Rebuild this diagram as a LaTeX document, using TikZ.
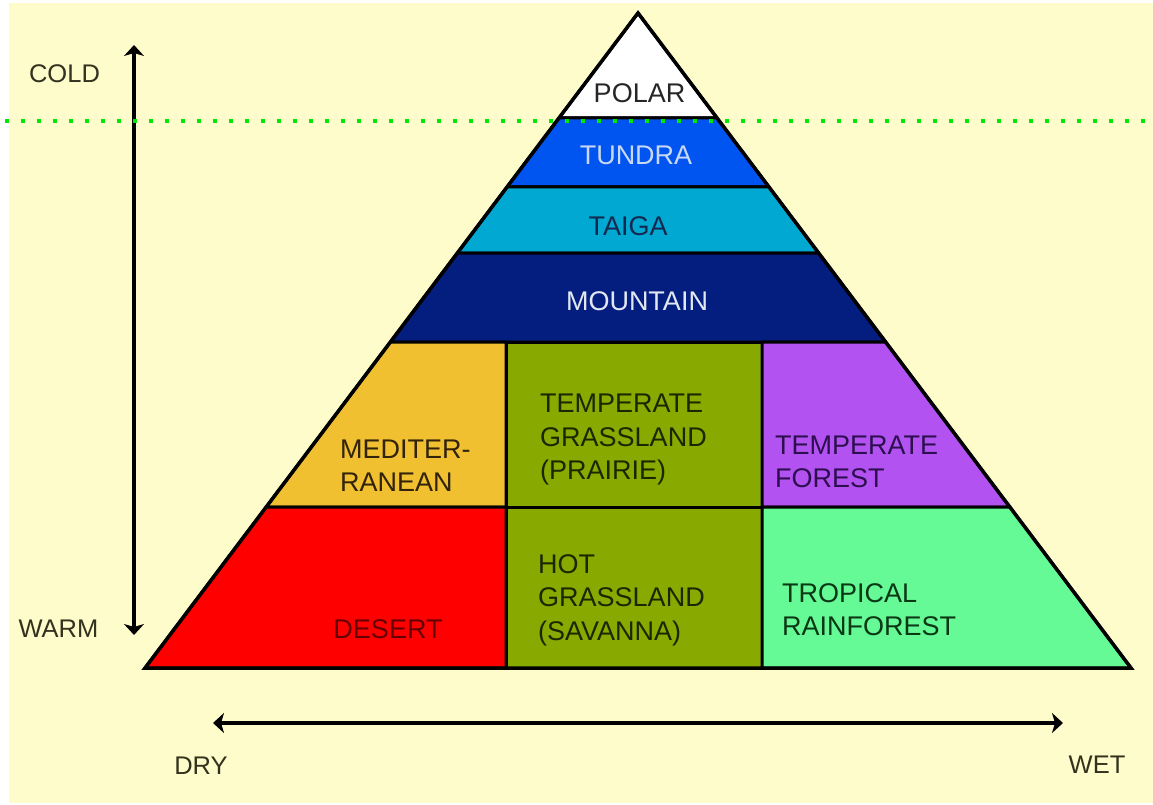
\documentclass[tikz,border=0pt]{standalone}
\usepackage{fontspec}
\setmainfont{Liberation Sans}
\usetikzlibrary{arrows.meta}
\definecolor{bg}{RGB}{254,252,202}
\definecolor{polarc}{RGB}{255,255,255}
\definecolor{tundrac}{RGB}{0,85,240}
\definecolor{taigac}{RGB}{0,168,210}
\definecolor{mountc}{RGB}{4,30,128}
\definecolor{medc}{RGB}{240,192,48}
\definecolor{grassc}{RGB}{136,170,0}
\definecolor{forestc}{RGB}{178,82,240}
\definecolor{desertc}{RGB}{255,0,0}
\definecolor{tropc}{RGB}{102,250,150}
\definecolor{dotgreen}{RGB}{0,232,0}
\definecolor{axistext}{RGB}{50,50,30}
\definecolor{tundratext}{RGB}{200,216,245}
\definecolor{taigatext}{RGB}{20,40,80}
\definecolor{mounttext}{RGB}{225,232,242}
\definecolor{medtext}{RGB}{50,35,10}
\definecolor{grasstext}{RGB}{25,40,0}
\definecolor{foresttext}{RGB}{45,15,80}
\definecolor{deserttext}{RGB}{100,0,0}
\definecolor{troptext}{RGB}{10,55,20}
\begin{document}
\begin{tikzpicture}[x=1pt,y=-1pt,
  region/.style={draw=black, line width=3pt, line join=round},
  lbl/.style={font=\fontsize{27}{33.5}\selectfont, inner sep=0pt},
  axislbl/.style={font=\fontsize{25.5}{30}\selectfont, inner sep=0pt, text=axistext},
  axisarrow/.style={line width=3.5pt, {Stealth[length=11pt,width=20pt,inset=3pt]}-{Stealth[length=11pt,width=20pt,inset=3pt]}},
  greendots/.style={draw=dotgreen, line width=4pt, dash pattern=on 4pt off 12pt}]
\useasboundingbox (0,0) rectangle (1153,805);
\fill[white] (0,0) rectangle (1153,805);
\fill[bg] (9,3) rectangle (1153,803);
% pyramid corners
\coordinate (A) at (638,13);
\coordinate (BL) at (145,668);
\coordinate (BR) at (1131,668);
% regions
\filldraw[region, fill=polarc] (A) -- (559,118) -- (717,118) -- cycle;
\filldraw[region, fill=tundrac] (559,118) -- (717,118) -- (769,187) -- (507,187) -- cycle;
\filldraw[region, fill=taigac] (507,187) -- (769,187) -- (818.6,253) -- (457.4,253) -- cycle;
\filldraw[region, fill=mountc] (457.4,253) -- (818.6,253) -- (885.6,342) -- (390.4,342) -- cycle;
\filldraw[region, fill=medc] (390.4,342) -- (506,342) -- (506,507) -- (266.2,507) -- cycle;
\filldraw[region, fill=grassc] (506,342) -- (762,342) -- (762,507) -- (506,507) -- cycle;
\filldraw[region, fill=forestc] (762,342) -- (885.6,342) -- (1009.8,507) -- (762,507) -- cycle;
\filldraw[region, fill=desertc] (266.2,507) -- (506,507) -- (506,668) -- (BL) -- cycle;
\filldraw[region, fill=grassc] (506,507) -- (762,507) -- (762,668) -- (506,668) -- cycle;
\filldraw[region, fill=tropc] (762,507) -- (1009.8,507) -- (BR) -- (762,668) -- cycle;
\draw[line width=3.5pt, line join=miter] (A) -- (BL) -- (BR) -- cycle;
% labels
\node[lbl, anchor=base, text=black!85] (polar) at (639.5,103) {POLAR};
\node[lbl, anchor=base, text=tundratext] (tundra) at (636,165) {TUNDRA};
\node[lbl, anchor=base, text=taigatext] (taiga) at (628,235) {TAIGA};
\node[lbl, anchor=base, text=mounttext] (mountain) at (637,310) {MOUNTAIN};
\node[lbl, anchor=west, align=left, text=medtext] (med) at (340,465.5) {MEDITER-\\RANEAN};
\node[lbl, anchor=west, align=left, text=grasstext] (tgrass) at (540,440) {TEMPERATE\\GRASSLAND\\(PRAIRIE)};
\node[lbl, anchor=west, align=left, text=foresttext] (tforest) at (775,462) {TEMPERATE\\FOREST};
\node[lbl, anchor=base, text=deserttext] (desert) at (388,638) {DESERT};
\node[lbl, anchor=west, align=left, text=grasstext] (hgrass) at (538,600) {HOT\\GRASSLAND\\(SAVANNA)};
\node[lbl, anchor=west, align=left, text=troptext] (trop) at (782,609.5) {TROPICAL\\RAINFOREST};
% axes
\node[axislbl, anchor=base] (cold) at (64.5,83) {COLD};
\node[axislbl, anchor=base] (warm) at (58.5,637) {WARM};
\node[axislbl, anchor=base] (dry) at (201,774) {DRY};
\node[axislbl, anchor=base] (wet) at (1097,773) {WET};
\coordinate (vtop) at (134,45);
\coordinate (vbot) at (134,635);
\coordinate (hleft) at (213,723);
\coordinate (hright) at (1063,723);
\draw[axisarrow] (vbot) -- (vtop);
\draw[axisarrow] (hleft) -- (hright);
% green dotted line
\coordinate (gstart) at (5,121);
\coordinate (gend) at (1153,121);
\draw[greendots] (gstart) -- (gend);
\end{tikzpicture}
\end{document}
